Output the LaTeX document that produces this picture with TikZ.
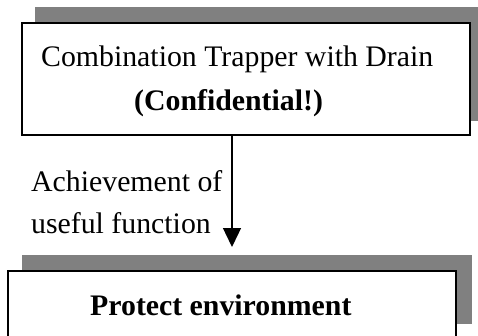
\documentclass[tikz,border=0pt]{standalone}
\usepackage{fontspec}
\setmainfont{Liberation Serif}
\usetikzlibrary{arrows.meta}
\definecolor{shade}{RGB}{128,128,128}
\tikzset{
  shadowbox/.style={fill=shade, draw=none},
  mainbox/.style={draw=black, fill=white, line width=1.5pt},
  txt/.style={anchor=base west, inner sep=0pt, font=\fontsize{29.8}{36}\selectfont},
  btxt/.style={txt, font=\fontsize{29.8}{36}\selectfont\bfseries},
  flow/.style={line width=1.3pt, -{Triangle[width=18pt,length=19pt]}}
}
\begin{document}
\begin{tikzpicture}[x=1pt,y=-1pt]
\useasboundingbox (0,0) rectangle (478,335);
\clip (0,0) rectangle (478,335);
% top box
\fill[shadowbox] (35,7) rectangle (479,121);
\draw[mainbox] (22,23) rectangle (470,135);
\node[inner sep=0pt, minimum width=448pt, minimum height=112pt] (topbox) at (246,79) {};
\node[txt] (t1) at (41,66) {Combination Trapper with Drain};
\node[btxt] (t2) at (134,110) {(Confidential!)};
% bottom box
\fill[shadowbox] (22,255) rectangle (472,324);
\draw[mainbox] (8,271) rectangle (456,360);
\node[inner sep=0pt, minimum width=448pt, minimum height=89pt] (botbox) at (232,315.5) {};
\node[btxt] (b1) at (90,315) {Protect environment};
% connector
\coordinate (tip) at (232,247);
\draw[flow] (topbox.south -| tip) -- (tip);
\node[txt] (l1) at (31,191) {Achievement of};
\node[txt] (l2) at (31,233) {useful function};
\end{tikzpicture}
\end{document}
